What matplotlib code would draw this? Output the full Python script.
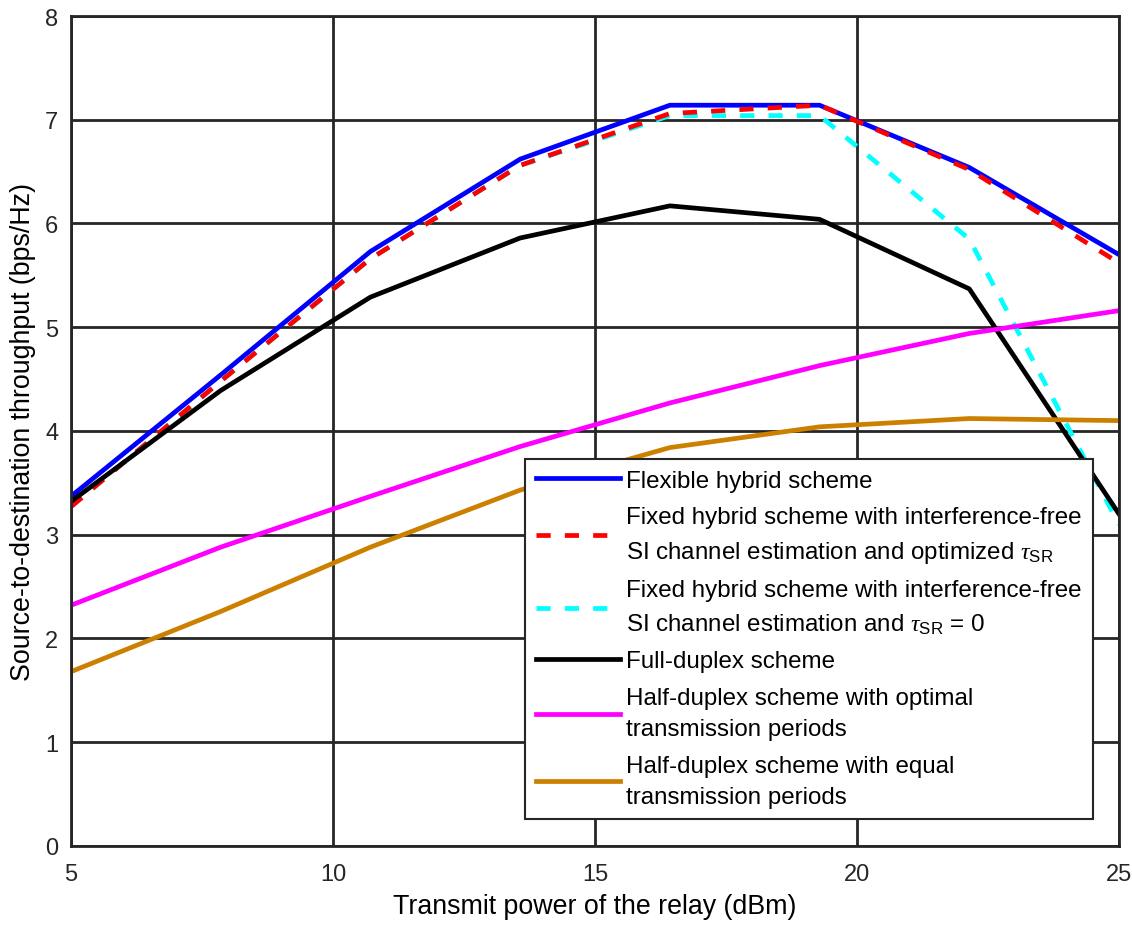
import matplotlib
matplotlib.use("Agg")
import matplotlib.pyplot as plt
import numpy as np

plt.rcParams['font.family'] = ['Liberation Sans', 'DejaVu Sans']
plt.rcParams['mathtext.fontset'] = 'custom'
plt.rcParams['mathtext.rm'] = 'Liberation Sans'
plt.rcParams['mathtext.it'] = 'Liberation Serif:italic'

power_dbm = [5.0, 7.857, 10.714, 13.571, 16.429, 19.286, 22.143, 25.0]
flexible = [3.37, 4.54, 5.73, 6.62, 7.14, 7.14, 6.54, 5.70]
fixed_opt = [3.27, 4.48, 5.66, 6.56, 7.06, 7.14, 6.52, 5.62]
fixed_zero = [3.27, 4.48, 5.66, 6.56, 7.04, 7.04, 5.85, 3.10]
full_duplex = [3.32, 4.39, 5.29, 5.86, 6.17, 6.04, 5.37, 3.20]
half_opt = [2.32, 2.88, 3.37, 3.85, 4.27, 4.63, 4.94, 5.16]
half_equal = [1.68, 2.26, 2.88, 3.43, 3.84, 4.04, 4.12, 4.10]

labels = [
    "Flexible hybrid scheme",
    "Fixed hybrid scheme with interference-free\nSI channel estimation and optimized $\\tau_{\\mathrm{SR}}$",
    "Fixed hybrid scheme with interference-free\nSI channel estimation and $\\tau_{\\mathrm{SR}}$ = 0",
    "Full-duplex scheme",
    "Half-duplex scheme with optimal\ntransmission periods",
    "Half-duplex scheme with equal\ntransmission periods",
]

fig = plt.figure(figsize=(11.32, 9.29), dpi=100)
ax = fig.add_axes([0.0627, 0.0883, 0.9258, 0.8934])

lw = 3.4
h_blue, = ax.plot(power_dbm, flexible, color='#0000FF', lw=lw, label=labels[0])
h_cyan, = ax.plot(power_dbm, fixed_zero, color='#00FFFF', lw=lw, dashes=(3.0, 3.0), label=labels[2])
h_red, = ax.plot(power_dbm, fixed_opt, color='#FF0000', lw=lw, dashes=(3.0, 3.0), label=labels[1])
h_black, = ax.plot(power_dbm, full_duplex, color='#000000', lw=lw, label=labels[3])
h_mag, = ax.plot(power_dbm, half_opt, color='#FF00FF', lw=lw, label=labels[4])
h_orange, = ax.plot(power_dbm, half_equal, color='#CC8000', lw=lw, label=labels[5])

ax.set_xlim(5, 25)
ax.set_ylim(0, 8)
ax.set_xticks([5, 10, 15, 20, 25])
ax.set_yticks(range(0, 9))
ax.grid(True, color='#262626', lw=2.0)
ax.set_axisbelow(True)
for s in ax.spines.values():
    s.set_color('#262626')
    s.set_linewidth(2.0)
ax.tick_params(direction='in', length=0, labelsize=17, colors='#262626')
ax.tick_params(axis='x', pad=12)
ax.tick_params(axis='y', pad=9)
ax.set_xlabel("Transmit power of the relay (dBm)", fontsize=19.3, color='#000000', labelpad=6)
ax.set_ylabel("Source-to-destination throughput (bps/Hz)", fontsize=19.3, color='#000000', labelpad=7)

leg = ax.legend(handles=[h_blue, h_red, h_cyan, h_black, h_mag, h_orange],
                loc='lower right', bbox_to_anchor=(0.975, 0.0325),
                fontsize=17.4, handlelength=3.5, handletextpad=0.25,
                labelspacing=0.6, borderpad=0.45, borderaxespad=0.0,
                fancybox=False, framealpha=1, edgecolor='#262626')
leg.get_frame().set_linewidth(1.5)
for t in leg.get_texts():
    t.set_linespacing(1.55)

fig.savefig("out.png", dpi=100)
